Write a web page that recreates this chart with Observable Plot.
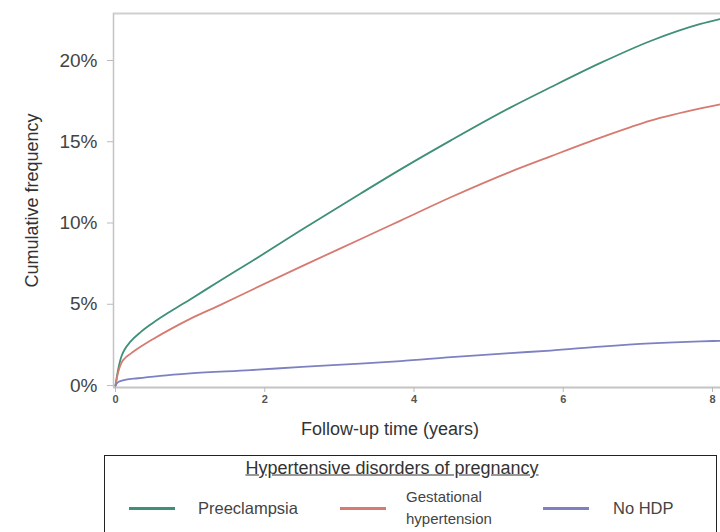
<!DOCTYPE html>
<html>
<head>
<meta charset="utf-8">
<script src="https://cdn.jsdelivr.net/npm/d3@7"></script>
<script src="https://cdn.jsdelivr.net/npm/@observablehq/plot@0.6"></script>
<style>
  body { margin: 0; background: #fff; font-family: "Liberation Sans", Arial, sans-serif; }
  #wrap { position: relative; width: 720px; height: 532px; overflow: hidden; background: #fff; }
  #legend { position: absolute; left: 104px; top: 455px; width: 613px; height: 100px; border: 1.5px solid #222; box-sizing: border-box; }
  .lg { position: absolute; color: #333; white-space: nowrap; }
</style>
</head>
<body>
<div id="wrap"><div id="chart"></div><div id="legend"></div></div>
<script>
// ---- data ----
const categories = ["Preeclampsia", "Gestational hypertension", "No HDP"];
const colors = ["#3f8f79", "#d57b71", "#7d81c2"];

const timeHDP = [0, 0.02, 0.05, 0.08, 0.12, 0.2, 0.34, 0.5, 0.75, 1.0, 1.4, 1.81, 2.5, 3.28, 3.82, 4.5, 5.29, 5.83, 6.5, 7.17, 7.84, 8.1];
const preeclampsia = [0, 0.6, 1.3, 1.8, 2.2, 2.7, 3.3, 3.85, 4.6, 5.3, 6.45, 7.6, 9.6, 11.8, 13.3, 15.1, 17.1, 18.35, 19.85, 21.2, 22.25, 22.55];
const gestational = [0, 0.5, 1.05, 1.4, 1.65, 1.95, 2.4, 2.85, 3.5, 4.1, 4.95, 5.85, 7.35, 9.0, 10.15, 11.6, 13.15, 14.1, 15.25, 16.3, 17.05, 17.3];

const timeNo = [0, 0.02, 0.05, 0.1, 0.3, 0.6, 1.0, 1.81, 2.5, 3.28, 3.82, 4.5, 5.29, 5.83, 6.5, 7.17, 7.84, 8.1];
const noHDP = [0, 0.15, 0.25, 0.32, 0.45, 0.6, 0.75, 0.95, 1.15, 1.35, 1.5, 1.75, 2.0, 2.15, 2.4, 2.6, 2.72, 2.75];

const xTicks = [0, 2, 4, 6, 8];
const yTicks = [0, 5, 10, 15, 20];
const xDomain = [-0.027, 8.107];
const yDomain = [-0.12, 22.89];

const rows = [
  ...timeHDP.map((t, i) => ({t, v: preeclampsia[i], g: categories[0]})),
  ...timeHDP.map((t, i) => ({t, v: gestational[i], g: categories[1]})),
  ...timeNo.map((t, i) => ({t, v: noHDP[i], g: categories[2]}))
];

const chart = Plot.plot({
  width: 720,
  height: 450,
  marginLeft: 113,
  marginRight: 0,
  marginTop: 13,
  marginBottom: 63,
  style: { fontFamily: "'Liberation Sans', Arial, sans-serif", color: "#333", background: "#fff" },
  x: { domain: xDomain },
  y: { domain: yDomain },
  color: { domain: categories, range: colors },
  marks: [
    Plot.ruleY([yDomain[1]], { stroke: "#d0d0d0", strokeWidth: 2 }),
    Plot.ruleX([xDomain[0]], { stroke: "#c4c4c4", strokeWidth: 1.5 }),
    Plot.ruleY([yDomain[0]], { stroke: "#c4c4c4", strokeWidth: 2 }),
    Plot.axisY({ ticks: yTicks, tickFormat: d => d + "%", tickSize: 6, tickPadding: 10, fontSize: 19, stroke: "#bbb", fill: "#444", label: null }),
    Plot.axisX({ ticks: xTicks, tickFormat: d => String(d), tickSize: 5, tickPadding: 3, fontSize: 11, fontWeight: "bold", stroke: "#bbb", fill: "#555", label: null }),
    Plot.text(["Cumulative frequency"], { frameAnchor: "left", textAnchor: "middle", rotate: -90, dx: -81, fontSize: 18, fill: "#333" }),
    Plot.text(["Follow-up time (years)"], { frameAnchor: "bottom", textAnchor: "middle", dx: -27, dy: 47, fontSize: 18, fill: "#333" }),
    Plot.line(rows, { x: "t", y: "v", z: "g", stroke: "g", strokeWidth: 1.8, curve: "monotone-x" })
  ]
});
document.getElementById("chart").appendChild(chart);

// ---- legend ----
const legend = document.getElementById("legend");
const boxLeft = 104, boxTop = 455;
function add(html, left, top, css) {
  const el = document.createElement("div");
  el.className = "lg";
  el.innerHTML = html;
  el.style.left = (left - boxLeft) + "px";
  el.style.top = (top - boxTop) + "px";
  Object.assign(el.style, css || {});
  legend.appendChild(el);
  return el;
}
add("Hypertensive disorders of pregnancy", 391, 467, { fontSize: "18px", textDecoration: "underline", transform: "translate(-50%,-50%)" });
const swatchX = [128, 339, 542];
const labelX = [197, 405, 612];
const labelHTML = ["Preeclampsia", "Gestational<br>hypertension", "No HDP"];
categories.forEach((c, i) => {
  add("", swatchX[i], 506, { width: "46px", height: "3px", background: colors[i] });
  add(labelHTML[i], labelX[i], 507, { fontSize: i === 1 ? "15px" : "16.5px", lineHeight: "22px", transform: "translateY(-50%)", color: "#444" });
});
</script>
</body>
</html>
